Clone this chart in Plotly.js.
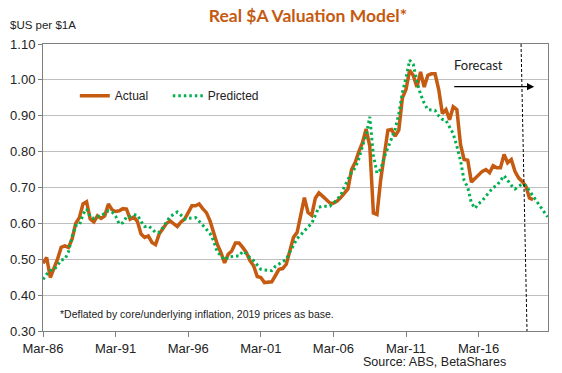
<!DOCTYPE html>
<html>
<head>
<meta charset="utf-8">
<script src="https://cdn.plot.ly/plotly-3.0.1.min.js"></script>
<style>html,body{margin:0;padding:0;background:#fff;}#chart{width:562px;height:373px;}</style>
</head>
<body>
<div id="chart"></div>
<script>
// Quarterly observations starting Mar-1986
var startYear = 1986;
var actual = [
0.489,0.505,0.449,0.472, 0.500,0.533,0.537,0.533, 0.556,0.600,0.616,0.654,
0.660,0.612,0.604,0.621, 0.614,0.621,0.654,0.638, 0.633,0.635,0.641,0.640,
0.612,0.618,0.605,0.570, 0.561,0.565,0.547,0.541, 0.570,0.585,0.600,0.607,
0.600,0.591,0.604,0.612, 0.630,0.649,0.649,0.654, 0.641,0.630,0.607,0.575,
0.542,0.519,0.490,0.514, 0.523,0.545,0.545,0.533, 0.519,0.496,0.482,0.452,
0.449,0.435,0.435,0.437, 0.454,0.472,0.474,0.486, 0.523,0.561,0.575,0.625,
0.672,0.630,0.622,0.670, 0.685,0.676,0.666,0.657, 0.656,0.662,0.672,0.683,
0.696,0.750,0.770,0.800, 0.825,0.863,0.815,0.629, 0.625,0.720,0.790,0.860,
0.862,0.843,0.860,0.950, 0.973,1.027,1.012,0.980, 1.022,0.980,1.013,1.017,
1.017,0.973,0.906,0.917, 0.889,0.925,0.917,0.820, 0.778,0.776,0.715,0.724,
0.734,0.745,0.750,0.741, 0.761,0.755,0.755,0.792, 0.769,0.778,0.745,0.727,
0.717,0.704,0.671,0.666
];
var predicted = [
0.444,0.458,0.468,0.470, 0.483,0.498,0.500,0.520, 0.563,0.594,0.595,0.625,
0.640,0.618,0.614,0.619, 0.621,0.628,0.635,0.632, 0.620,0.598,0.602,0.618,
0.619,0.624,0.623,0.605, 0.591,0.593,0.585,0.574, 0.575,0.588,0.605,0.619,
0.625,0.632,0.623,0.612, 0.614,0.615,0.616,0.606, 0.594,0.582,0.572,0.551,
0.519,0.511,0.498,0.506, 0.508,0.509,0.509,0.522, 0.516,0.504,0.496,0.484,
0.472,0.470,0.469,0.468, 0.480,0.486,0.492,0.500, 0.520,0.540,0.558,0.568,
0.580,0.590,0.600,0.625, 0.645,0.648,0.648,0.648, 0.656,0.667,0.678,0.702,
0.722,0.742,0.755,0.780, 0.815,0.845,0.897,0.790, 0.740,0.750,0.785,0.810,
0.838,0.862,0.905,0.965, 1.006,1.055,1.043,0.995, 0.960,0.935,0.917,0.916,
0.915,0.900,0.890,0.887, 0.870,0.850,0.815,0.775, 0.720,0.700,0.657,0.642,
0.655,0.663,0.676,0.688, 0.700,0.705,0.718,0.733, 0.720,0.706,0.696,0.702,
0.710,0.705,0.690,0.676, 0.660,0.645,0.631,0.618
];
var tickDates = ['1986-03-01','1991-03-01','1996-03-01','2001-03-01','2006-03-01','2011-03-01','2016-03-01'];
var tickLabels = ['Mar-86','Mar-91','Mar-96','Mar-01','Mar-06','Mar-11','Mar-16'];

function qDate(i){
  var y = startYear + Math.floor(i/4);
  var m = 3 + 3*(i%4);
  return y + '-' + (m<10?'0':'') + m + '-01';
}
var xa = actual.map(function(_,i){return qDate(i);});
var xp = predicted.map(function(_,i){return qDate(i);});

var ORANGE = '#C55A11';
var GREEN = '#00B050';
var ARIAL = 'Liberation Sans, Arial, sans-serif';

var traces = [
  {x: xa, y: actual, type:'scatter', mode:'lines', name:'Actual',
   line:{color:ORANGE, width:3.5}},
  {x: xp, y: predicted, type:'scatter', mode:'lines', name:'Predicted',
   line:{color:GREEN, width:3, dash:'2.5px,3px'}}
];

var layout = {
  width:562, height:373,
  margin:{l:43, r:14, t:44, b:42, pad:0},
  paper_bgcolor:'#fff', plot_bgcolor:'#fff',
  showlegend:true,
  legend:{orientation:'h', x:0.063, y:0.82, xanchor:'left', yanchor:'middle',
          font:{family:ARIAL, size:12, color:'#222'}, bgcolor:'rgba(0,0,0,0)',
          tracegroupgap:0, itemwidth:30, entrywidth:48, entrywidthmode:'pixels'},
  title:{text:'<b>Real $A Valuation Model*</b>', x:0.548, xanchor:'center', y:0.957, yanchor:'middle',
         font:{family:'Lato, Open Sans, sans-serif', size:17.5, color:ORANGE}},
  xaxis:{type:'date', range:['1986-03-01','2020-12-10'], tickvals:tickDates, ticktext:tickLabels,
         showgrid:false, zeroline:false, showline:true, linecolor:'#7F7F7F', linewidth:1, mirror:true,
         ticks:'outside', ticklen:5, tickcolor:'#7F7F7F', tickfont:{family:ARIAL, size:13, color:'#222'}},
  yaxis:{range:[0.30,1.10], dtick:0.1, tick0:0.3, tickformat:'.2f',
         showgrid:true, gridcolor:'#BFBFBF', gridwidth:1, zeroline:false,
         showline:true, linecolor:'#7F7F7F', linewidth:1, mirror:true,
         ticks:'outside', ticklen:4, tickcolor:'#7F7F7F', tickfont:{family:ARIAL, size:13, color:'#222'}},
  shapes:[
    {type:'line', xref:'x', yref:'y', x0:'2019-02-01', y0:1.10, x1:'2019-07-01', y1:0.30,
     line:{color:'#000', width:1, dash:'3px,2px'}}
  ],
  annotations:[
    {text:'$US per $1A', xref:'paper', yref:'paper', x:-0.070, y:1.066, xanchor:'left', yanchor:'middle',
     showarrow:false, font:{family:ARIAL, size:11.5, color:'#222'}},
    {text:'*Deflated by core/underlying inflation, 2019 prices as base.', xref:'paper', yref:'paper',
     x:0.030, y:0.059, xanchor:'left', yanchor:'middle', showarrow:false,
     font:{family:ARIAL, size:10.5, color:'#222'}},
    {text:'Source: ABS, BetaShares', xref:'paper', yref:'paper', x:0.921, y:-0.108,
     xanchor:'right', yanchor:'middle', showarrow:false, font:{family:ARIAL, size:12.5, color:'#222'}},
    {text:'Forecast', xref:'paper', yref:'paper', x:0.863, y:0.927, xanchor:'center', yanchor:'middle',
     showarrow:false, font:{family:'Lato, Open Sans, sans-serif', size:13, color:'#222'}},
    {text:'', xref:'x', yref:'y', x:'2019-12-28', y:0.981, axref:'x', ayref:'y', ax:'2014-05-20', ay:0.981,
     showarrow:true, arrowhead:2, arrowsize:1.2, arrowwidth:1.2, arrowcolor:'#000', standoff:0}
  ]
};

Plotly.newPlot('chart', traces, layout, {displayModeBar:false, staticPlot:true});
</script>
</body>
</html>
